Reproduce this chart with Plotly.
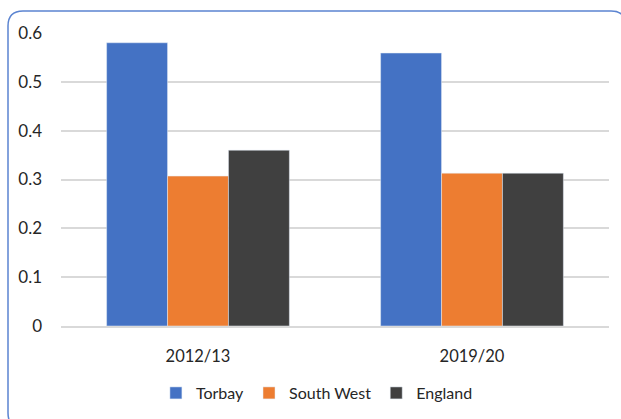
import plotly.graph_objects as go

categories = ["2012/13", "2019/20"]
torbay = [0.58, 0.559]
south_west = [0.307, 0.313]
england = [0.36, 0.313]
tick_vals = [0, 0.1, 0.2, 0.3, 0.4, 0.5, 0.6]
tick_text = ["0", "0.1", "0.2", "0.3", "0.4", "0.5", "0.6"]

FONT = "Lato, Open Sans, sans-serif"
TXT = "#262626"

fig = go.Figure()
fig.add_bar(name="Torbay", x=categories, y=torbay, marker_color="#4472C4")
fig.add_bar(name="South West", x=categories, y=south_west, marker_color="#ED7D31")
fig.add_bar(name="England", x=categories, y=england, marker_color="#404040")

L, R, T, B = 61, 12, 33, 93
W, H = 621, 419
pw, ph = W - L - R, H - T - B


def px(x):
    return (x - L) / pw


def py(y):
    return (H - B - y) / ph


x0, x1, y0, y1 = 8, 626, 11, 428
rx, ry = 15 / pw, 15 / ph
X0, X1, Y0, Y1 = px(x0), px(x1), py(y0), py(y1)
path = (
    f"M {X0+rx},{Y0} L {X1-rx},{Y0} Q {X1},{Y0} {X1},{Y0-ry} "
    f"L {X1},{Y1+ry} Q {X1},{Y1} {X1-rx},{Y1} "
    f"L {X0+rx},{Y1} Q {X0},{Y1} {X0},{Y1+ry} "
    f"L {X0},{Y0-ry} Q {X0},{Y0} {X0+rx},{Y0} Z"
)

fig.update_layout(
    width=W,
    height=H,
    margin=dict(l=L, r=R, t=T, b=B, autoexpand=False),
    paper_bgcolor="white",
    plot_bgcolor="white",
    barmode="group",
    bargap=0.333,
    bargroupgap=0,
    font=dict(family=FONT, color=TXT, size=16),
    showlegend=True,
    legend=dict(
        orientation="h",
        x=0.467,
        xanchor="center",
        yref="container",
        y=0.1026,
        yanchor="top",
        font=dict(size=16, color=TXT),
        itemwidth=30,
        traceorder="normal",
    ),
    xaxis=dict(
        showgrid=False,
        showline=True,
        linecolor="#d9d9d9",
        linewidth=2,
        ticks="",
        tickfont=dict(size=16.5, color=TXT),
        ticklabelstandoff=14,
        automargin=False,
    ),
    yaxis=dict(
        range=[0, 0.6],
        tickvals=tick_vals,
        ticktext=tick_text,
        showgrid=True,
        gridcolor="#d9d9d9",
        gridwidth=1.5,
        zeroline=False,
        showline=False,
        ticks="",
        tickfont=dict(size=17, color=TXT),
        ticklabelstandoff=18,
        automargin=False,
    ),
    shapes=[
        dict(
            type="path",
            xref="paper",
            yref="paper",
            path=path,
            line=dict(color="#5B84D1", width=1.5),
            fillcolor="rgba(0,0,0,0)",
            layer="above",
        )
    ],
)

fig.write_html(
    "out.html",
    config={"displayModeBar": False},
    post_script="document.body.style.margin='0';document.body.style.overflow='hidden';",
)
